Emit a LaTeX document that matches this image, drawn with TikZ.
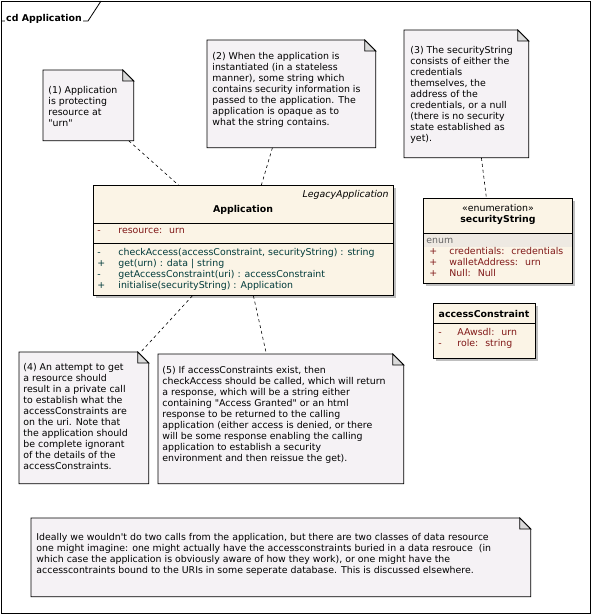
\documentclass[tikz,border=0pt]{standalone}
\usepackage{fontspec}
\setmainfont{DejaVu Sans}[Ligatures=TeXOff]
\usetikzlibrary{calc}

\definecolor{notebg}{HTML}{F5F2F5}
\definecolor{classbg}{HTML}{FBF4E6}
\definecolor{enumbg}{HTML}{EEE9E2}
\definecolor{attrred}{HTML}{801818}
\definecolor{opteal}{HTML}{003A3A}
\definecolor{foldgray}{HTML}{DADADA}

\newcommand{\umlfont}{\fontsize{9.4}{11}\selectfont}

\begin{document}
\begin{tikzpicture}[x=1pt, y=-1pt, line width=0.8pt,
  every node/.style={font=\umlfont, inner sep=0pt},
  notebox/.style={anchor=north west},
  notetext/.style={anchor=north west, align=left},
  classbox/.style={anchor=north west, draw, fill=classbg,
    preaction={fill=gray!50, transform canvas={xshift=3pt, yshift=-3pt}}},
  member/.style={anchor=west, text height=7pt, text depth=2pt},
  attr/.style={member, text=attrred},
  oper/.style={member, text=opteal},
  link/.style={line width=0.6pt, dash pattern=on 3pt off 3pt}]
  \useasboundingbox (0,0) rectangle (592,615);

  % diagram frame
  \draw (1,1) rectangle (590,613);
  \draw (1,21) -- (88,21) -- (101,1);
  \node[fill=white, inner sep=1pt, font=\umlfont\bfseries] (title) at (44,19) {cd Application};

  % notes
  \node[notebox, minimum width=90pt, minimum height=70pt] (note1) at (43,70) {};
  \node[notebox, minimum width=168pt, minimum height=107pt] (note2) at (207,40) {};
  \node[notebox, minimum width=124pt, minimum height=127pt] (note3) at (404,30) {};
  \node[notebox, minimum width=129pt, minimum height=131pt] (note4) at (19,352) {};
  \node[notebox, minimum width=245pt, minimum height=129pt] (note5) at (158,354) {};
  \node[notebox, minimum width=499pt, minimum height=78pt] (note6) at (31,518) {};
  \foreach \n in {note1,note2,note3,note4,note5,note6} {
    \draw[fill=notebg] (\n.north west) -- ([xshift=-11pt]\n.north east)
      -- ([yshift=-11pt]\n.north east) -- (\n.south east) -- (\n.south west) -- cycle;
    \draw[fill=foldgray] ([xshift=-11pt]\n.north east) |- ([yshift=-11pt]\n.north east) -- cycle;
  }
  \node[notetext] (text1) at (48,86) {(1) Application\\is protecting\\resource at\\"urn"};
  \node[notetext] (text2) at (212,52) {(2) When the application is\\instantiated (in a stateless\\manner), some string which\\contains security information is\\passed to the application. The\\application is opaque as to\\what the string contains.};
  \node[notetext] (text3) at (410,46) {(3) The securityString\\consists of either the\\credentials\\themselves, the\\address of the\\credentials, or a null\\(there is no security\\state established as\\yet).};
  \node[notetext] (text4) at (23,363) {(4) An attempt to get\\a resource should\\result in a private call\\to establish what the\\accessConstraints are\\on the uri. Note that\\the application should\\be complete ignorant\\of the details of the\\accessConstraints.};
  \node[notetext] (text5) at (162,366) {(5) If accessConstraints exist, then\\checkAccess should be called, which will return\\a response, which will be a string either\\containing "Access Granted" or an html\\response to be returned to the calling\\application (either access is denied, or there\\will be some response enabling the calling\\application to establish a security\\environment and then reissue the get).};
  \node[notetext] (text6) at (36,533) {Ideally we wouldn't do two calls from the application, but there are two classes of data resource\\one might imagine: one might actually have the accessconstraints buried in a data resrouce~ (in\\which case the application is obviously aware of how they work), or one might have the\\accesscontraints bound to the URIs in some seperate database. This is discussed elsewhere.};

  % class Application
  \node[classbox, minimum width=300pt, minimum height=110pt] (app) at (93,185) {};
  \draw (app.west |- 0,223) -- (app.east |- 0,223);
  \draw (app.west |- 0,243) -- (app.east |- 0,243);
  \node[anchor=east, font=\umlfont\itshape] (appstereo) at (389,195) {LegacyApplication};
  \node[font=\umlfont\bfseries] (appname) at (243,210) {Application};
  \node[attr] at (97,231) {-};
  \node[attr] at (118,231) {resource:~ urn};
  \foreach \y/\v/\t in {253/-/{checkAccess(accessConstraint, securityString) : string},
      264/+/{get(urn) : data | string},
      275/-/{getAccessConstraint(uri) : accessConstraint},
      286/+/{initialise(securityString) : Application}} {
    \node[oper] at (97,\y) {\v};
    \node[oper] at (118,\y) {\t};
  }

  % enumeration securityString
  \node[classbox, minimum width=149pt, minimum height=85pt] (secstr) at (423,198) {};
  \draw (secstr.west |- 0,233) -- (secstr.east |- 0,233);
  \fill[enumbg] ([xshift=0.5pt]secstr.west |- 0,234) rectangle ([xshift=-0.5pt]secstr.east |- 0,247);
  \node (secstereo) at (498,208) {«enumeration»};
  \node[font=\umlfont\bfseries] (secname) at (498,220) {securityString};
  \node[member, text=gray!80!black] at (426,241) {enum};
  \foreach \y/\t in {252/{credentials:~ credentials}, 263/{walletAddress:~ urn}, 274/{Null:~ Null}} {
    \node[attr] at (429,\y) {+};
    \node[attr] at (449,\y) {\t};
  }

  % class accessConstraint
  \node[classbox, minimum width=102pt, minimum height=55pt] (acc) at (433,303) {};
  \draw (acc.west |- 0,323) -- (acc.east |- 0,323);
  \node[font=\umlfont\bfseries] (accname) at (484,314) {accessConstraint};
  \foreach \y/\t in {333/{AAwsdl:~ urn}, 344/{role:~ string}} {
    \node[attr] at (438,\y) {-};
    \node[attr] at (457,\y) {\t};
  }

  % note links
  \draw[link] ([xshift=-5pt]note1.south east) -- ([xshift=-65pt]app.north);
  \draw[link] ([xshift=-19pt]note2.south) -- ([xshift=18pt]app.north);
  \draw[link] ([xshift=15pt]note3.south) -- ([xshift=-11.5pt]secstr.north);
  \draw[link] ([xshift=-51pt]app.south) -- ([xshift=-8pt]note4.north east);
  \draw[link] ([xshift=10pt]app.south) -- ([xshift=-14.5pt]note5.north);
\end{tikzpicture}
\end{document}
